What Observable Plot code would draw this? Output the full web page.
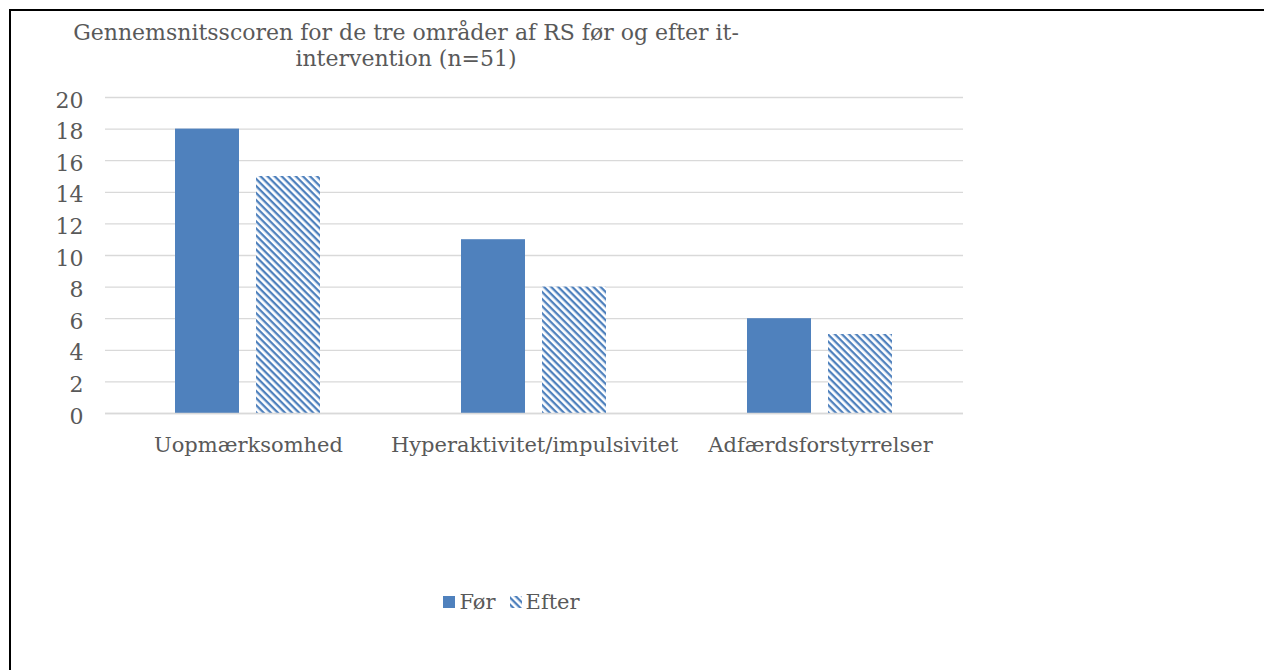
<!DOCTYPE html>
<html>
<head>
<meta charset="utf-8">
<script src="https://cdn.jsdelivr.net/npm/d3@7"></script>
<script src="https://cdn.jsdelivr.net/npm/@observablehq/plot@0.6"></script>
<style>
  html, body { margin: 0; padding: 0; background: #fff; }
  #frame { position: relative; width: 1264px; height: 670px; overflow: hidden; font-family: "DejaVu Serif", serif; color: #595959; }
  #frame .bt { position: absolute; left: 9px; top: 9px; width: 1255px; height: 2px; background: #000; }
  #frame .bl { position: absolute; left: 9px; top: 9px; width: 2px; height: 661px; background: #000; }
  #title { position: absolute; left: 56px; width: 700px; top: 20px; text-align: center; font-size: 22px; line-height: 25.5px; }
  #chart { position: absolute; left: 0; top: 0; }
  #legend { position: absolute; top: 587px; left: 0; width: 1023px; text-align: center; font-size: 21px; line-height: 28px; }
  #legend span.item { display: inline-flex; align-items: center; margin: 0 7px; }
  #legend svg { margin-right: 4px; }
</style>
</head>
<body>
<div id="frame">
  <div class="bt"></div>
  <div class="bl"></div>
  <div id="chart"></div>
  <div id="title">Gennemsnitsscoren for de tre områder af RS før og efter it-intervention (n=51)</div>
  <div id="legend"></div>
</div>
<script>
const categories = ["Uopmærksomhed", "Hyperaktivitet/impulsivitet", "Adfærdsforstyrrelser"];
const series = ["Før", "Efter"];
const forValues = [18, 11, 6];
const efterValues = [15, 8, 5];
const yTicks = [0, 2, 4, 6, 8, 10, 12, 14, 16, 18, 20];

const blue = "#4F81BD";
const data = [];
categories.forEach((c, i) => {
  data.push({category: c, series: "Før", value: forValues[i]});
  data.push({category: c, series: "Efter", value: efterValues[i]});
});

const chart = Plot.plot({
  width: 1264,
  height: 670,
  marginLeft: 104,
  marginRight: 300,
  marginTop: 97,
  marginBottom: 257,
  style: {fontFamily: "'DejaVu Serif', serif", fontSize: "21px", color: "#595959", background: "transparent"},
  fx: {domain: categories, padding: 0, label: null},
  x: {domain: series, paddingInner: 0.2073, paddingOuter: 0.854, axis: null},
  y: {domain: [0, 20], label: null},
  marks: [
    Plot.gridY(yTicks, {stroke: "#D9D9D9", strokeOpacity: 1, strokeWidth: 1.3}),
    Plot.axisY(yTicks, {tickSize: 0, tickPadding: 22, dy: 3, fontSize: 22, fill: "#595959", label: null, tickFormat: d => String(d)}),
    Plot.axisFx({anchor: "bottom", tickSize: 0, tickPadding: 24, fontSize: 21, fill: "#595959", label: null}),
    Plot.barY(data.filter(d => d.series === "Før"), {fx: "category", x: "series", y: "value", fill: blue}),
    Plot.barY(data.filter(d => d.series === "Efter"), {fx: "category", x: "series", y: "value", fill: "url(#efterPattern)"}),
    Plot.ruleY([0], {stroke: "#D9D9D9", strokeWidth: 1.3})
  ]
});

// pattern definition for the "Efter" bars (wide downward diagonal)
const ns = "http://www.w3.org/2000/svg";
function addPattern(svg, id) {
  const defs = document.createElementNS(ns, "defs");
  const pat = document.createElementNS(ns, "pattern");
  pat.setAttribute("id", id);
  pat.setAttribute("patternUnits", "userSpaceOnUse");
  pat.setAttribute("width", "5");
  pat.setAttribute("height", "5");
  pat.setAttribute("patternTransform", "rotate(45)");
  const bg = document.createElementNS(ns, "rect");
  bg.setAttribute("width", "5"); bg.setAttribute("height", "5"); bg.setAttribute("fill", "#fff");
  const ln = document.createElementNS(ns, "rect");
  ln.setAttribute("width", "5"); ln.setAttribute("height", "2.3"); ln.setAttribute("fill", blue);
  pat.appendChild(bg); pat.appendChild(ln);
  defs.appendChild(pat);
  svg.insertBefore(defs, svg.firstChild);
}
addPattern(chart, "efterPattern");
document.getElementById("chart").appendChild(chart);

// legend
const legend = document.getElementById("legend");
series.forEach(s => {
  const item = document.createElement("span");
  item.className = "item";
  const sw = document.createElementNS(ns, "svg");
  sw.setAttribute("width", "12"); sw.setAttribute("height", "12");
  if (s === "Efter") addPattern(sw, "legendPattern");
  const r = document.createElementNS(ns, "rect");
  r.setAttribute("width", "12"); r.setAttribute("height", "12");
  r.setAttribute("fill", s === "Før" ? blue : "url(#legendPattern)");
  sw.appendChild(r);
  item.appendChild(sw);
  const t = document.createElement("span");
  t.textContent = s;
  item.appendChild(t);
  legend.appendChild(item);
});
</script>
</body>
</html>
